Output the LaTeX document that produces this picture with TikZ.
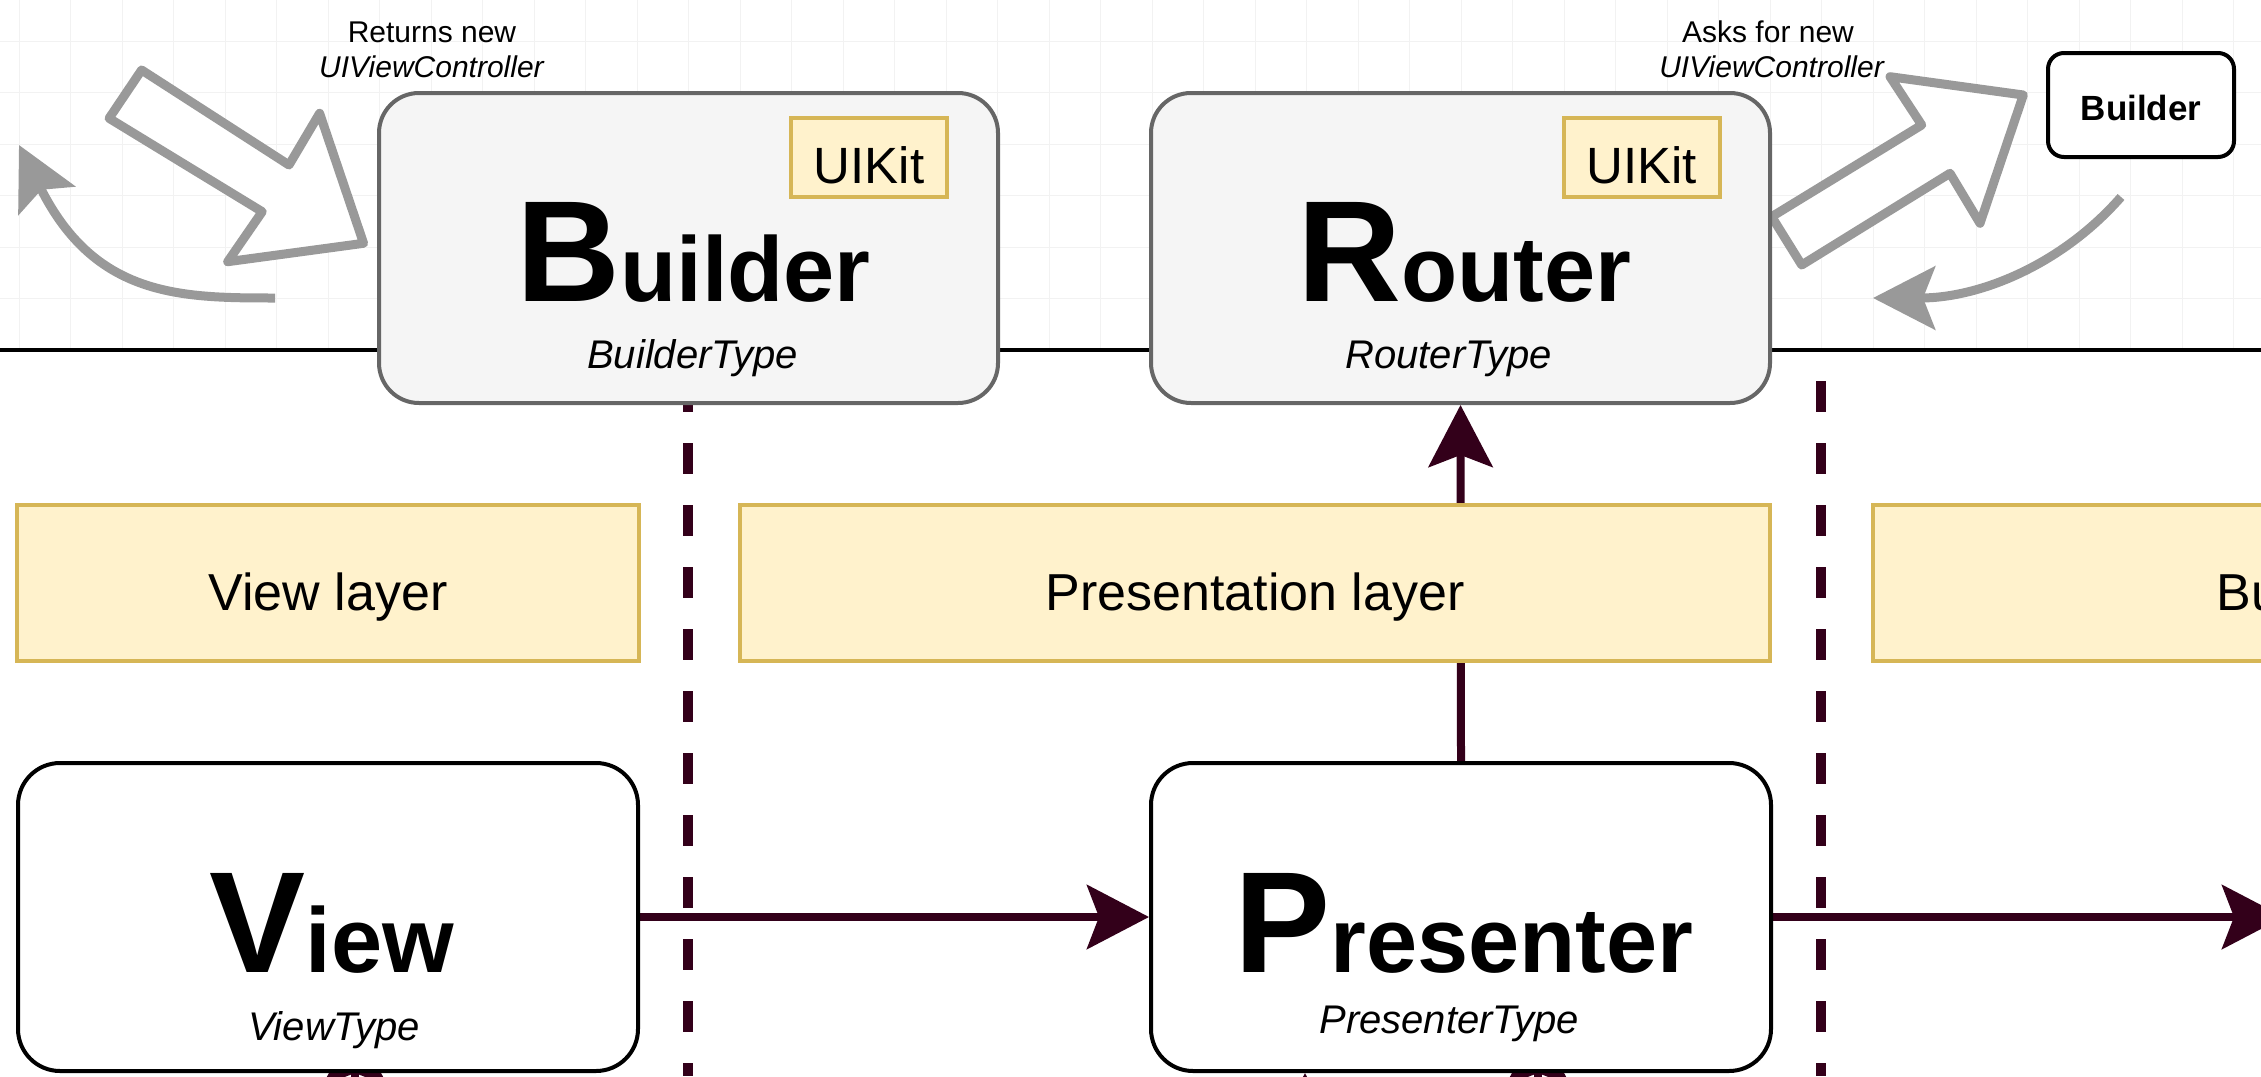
\documentclass[tikz,border=0pt]{standalone}
\usepackage{fontspec}
\setmainfont{Liberation Sans}
\usepackage{tikz}
\usetikzlibrary{arrows.meta,calc}
\definecolor{vipermaroon}{RGB}{51,0,26}
\definecolor{vipergray}{RGB}{153,153,153}
\definecolor{viperedge}{RGB}{102,102,102}
\definecolor{viperfill}{RGB}{245,245,245}
\definecolor{layerfill}{RGB}{255,242,204}
\definecolor{layeredge}{RGB}{214,182,86}
\definecolor{gridgray}{RGB}{242,242,242}
\pgfdeclarelayer{background}
\pgfsetlayers{background,main}
\newcommand{\bigword}[2]{{\fontsize{144}{150}\selectfont\bfseries #1}{\fontsize{92}{100}\selectfont\bfseries #2}}

\begin{document}
\begin{tikzpicture}[x=1pt,y=-1pt,>=Stealth,
    module/.style={draw=viperedge,fill=viperfill,line width=4pt,rounded corners=40pt,minimum width=619pt,minimum height=310pt},
    role/.style={draw=black,fill=white,line width=4pt,rounded corners=42pt,minimum width=620pt,minimum height=308pt},
    layerbox/.style={draw=layeredge,fill=layerfill,line width=4pt,inner sep=0pt,minimum height=156pt,text height=54pt,text depth=0pt,font=\fontsize{52}{60}\selectfont},
    kitbadge/.style={draw=layeredge,fill=layerfill,line width=4pt,inner sep=0pt,minimum width=156pt,minimum height=79pt,text height=51pt,text depth=0pt,font=\fontsize{51}{60}\selectfont},
    smallbox/.style={draw=black,fill=white,line width=4pt,inner sep=0pt,rounded corners=16pt,minimum width=186pt,minimum height=104pt,text height=30pt,text depth=0pt,font=\fontsize{35}{42}\selectfont\bfseries},
    bigtitle/.style={anchor=base,inner sep=0pt},
    typelabel/.style={anchor=base,inner sep=0pt,font=\fontsize{40}{48}\selectfont\itshape},
    notetext/.style={anchor=base,inner sep=0pt,font=\fontsize{30}{36}\selectfont},
    flow/.style={draw=vipermaroon,line width=8pt,-{Stealth[length=62pt,width=64pt,inset=12pt]}},
    handback/.style={draw=vipergray,line width=9pt,-{Stealth[length=62pt,width=63pt,inset=12pt]}},
    hollowarrow/.style={draw=vipergray,fill=white,line width=9pt,line join=round}]
    \useasboundingbox (0,0) rectangle (2261,1076);
    \clip (0,0) rectangle (2261,1076);

    \node[module] (builder) at (688.5,248) {};
    \node[module] (router) at (1460.5,248) {};
    \node[kitbadge] (builderkit) at (869,157.5) {UIKit};
    \node[kitbadge] (routerkit) at (1641.5,157.5) {UIKit};
    \node[bigtitle] (buildername) at ($(builder.center)+(5,53)$) {\bigword{B}{uilder}};
    \node[typelabel] (buildertype) at ($(builder.center)+(4,120)$) {BuilderType};
    \node[bigtitle] (routername) at ($(router.center)+(4,53)$) {\bigword{R}{outer}};
    \node[typelabel] (routertype) at ($(router.center)+(-12,120)$) {RouterType};

    \node[notetext] (returnsnew) at (432,42) {Returns new};
    \node[notetext] (returnsvc) at (432,77) {\textit{UIViewController}};
    \node[notetext] (asksnew) at (1768,42) {Asks for new};
    \node[notetext] (asksvc) at (1772,77) {\textit{UIViewController}};
    \node[smallbox] (nextbuilder) at (2141,105) {Builder};

    \node[layerbox,minimum width=622pt] (viewlayer) at (328,583) {View layer};
    \node[layerbox,minimum width=1030pt] (presentationlayer) at (1255,583) {Presentation layer};
    \node[layerbox,minimum width=1026pt] (businesslayer) at (2386,583) {Business layer};

    \node[role] (view) at (328,917) {};
    \node[role] (presenter) at (1461,917) {};
    \node[bigtitle] (viewname) at ($(view.center)+(4,55)$) {\bigword{V}{iew}};
    \node[typelabel] (viewtype) at ($(view.center)+(6,123)$) {ViewType};
    \node[bigtitle] (presentername) at ($(presenter.center)+(3,55)$) {\bigword{P}{resenter}};
    \node[typelabel] (presentertype) at ($(presenter.center)+(-12,116)$) {PresenterType};

    \coordinate (leftreturn) at (275,298);
    \coordinate (leftreturntip) at (19,145);
    \coordinate (rightreturn) at (2121,197);
    \coordinate (rightreturntip) at (1873,298);
    \coordinate (nextlayer) at (2284,917);
    \coordinate (viewbelow) at (355,1150);
    \coordinate (presenterbelowa) at (1305,1150);
    \coordinate (presenterbelowb) at (1538,1150);

    \begin{pgfonlayer}{background}
        \clip (0,0) rectangle (2261,1076);
        \foreach \i in {0,...,43}
            \draw[gridgray,line width=1pt] (19.1+51.5*\i,0) -- (19.1+51.5*\i,350);
        \foreach \j in {1,...,6}
            \draw[gridgray,line width=1pt] (0,350-51.5*\j) -- (2261,350-51.5*\j);
        \draw[line width=4pt] (0,350) -- (2261,350);
        \foreach \x in {688,1821}
            \draw[vipermaroon,line width=10pt,dash pattern=on 31pt off 31pt] (\x,381) -- (\x,1076);

        \draw[hollowarrow] (141.6,70) -- (289,165) -- (319.6,113.3) -- (363.6,243.3) -- (227.7,261.7) -- (262.2,211.7) -- (109.1,118.3) -- cycle;
        \draw[hollowarrow] (1801.7,265) -- (1771.7,216.7) -- (1921.7,125) -- (1890,76.7) -- (2023.3,95) -- (1980,223.3) -- (1950,173.3) -- cycle;
        \draw[handback] (leftreturn) .. controls (180,298) and (95,297) .. (leftreturntip);
        \draw[handback] (rightreturn) .. controls (2062,264.5) and (1980,298) .. (rightreturntip);

        \draw[flow] (view.east) -- (presenter.west);
        \draw[flow] (presenter.east) -- (nextlayer);
        \draw[flow] (presenter.north) -- (router.south);
        \draw[flow] (viewbelow) -- ($(view.south)+(27,-50)$);
        \draw[flow] (presenterbelowa) -- (presenterbelowa |- presenter.south);
        \draw[flow] (presenterbelowb) -- ($(presenterbelowb |- presenter.south)+(0,-50)$);
    \end{pgfonlayer}
\end{tikzpicture}
\end{document}
